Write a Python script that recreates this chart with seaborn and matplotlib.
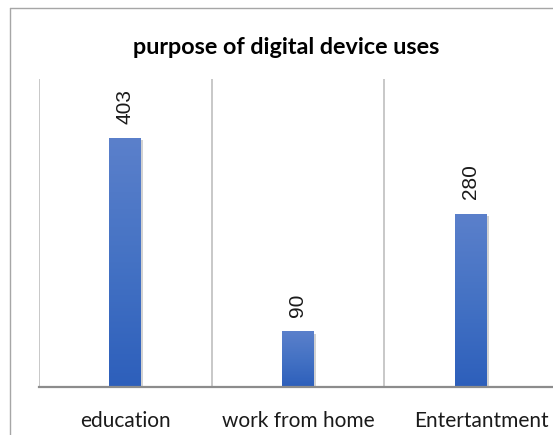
import numpy as np
import matplotlib
matplotlib.use("Agg")
import matplotlib.pyplot as plt
import matplotlib.patheffects as pe
from matplotlib.colors import LinearSegmentedColormap
from matplotlib.transforms import ScaledTranslation
from matplotlib.lines import Line2D
import seaborn as sns

# chart data
categories = ['education', 'work from home', 'Entertantment']
counts = [403, 90, 280]
title = 'purpose of digital device uses'

sns.set_style('white')
plt.rcParams['font.family'] = ['Lato', 'DejaVu Sans']

fig = plt.figure(figsize=(5.53, 4.355), dpi=100)

# outer chart border (cut off on the right and bottom like the screenshot)
bx, by = 10 / 553, 1 - 8 / 435
fig.add_artist(Line2D([bx, bx], [0, by], transform=fig.transFigure,
                      color='#a6a6a6', linewidth=1.0))
fig.add_artist(Line2D([bx, 1], [by, by], transform=fig.transFigure,
                      color='#a6a6a6', linewidth=1.0))

ax = fig.add_axes([39 / 553, 48 / 435, 518 / 553, 308 / 435])

sns.barplot(x=categories, y=counts, width=0.185, color='#4472c4', ax=ax,
            linewidth=0, zorder=3)

ax.set_xlim(-0.5, len(categories) - 0.5)
ax.set_ylim(0, 500)

# vertical separators between categories
ax.set_xticks(np.arange(len(categories)) - 0.5, minor=True)
ax.grid(True, which='minor', axis='x', color='#bfbfbf', linewidth=1.2, zorder=0)
ax.grid(False, which='major')
ax.tick_params(axis='x', which='both', length=0)
ax.tick_params(axis='x', which='major', pad=17, labelsize=15, colors='#1a1a1a')
ax.set_yticks([])
ax.set_xlabel('')
ax.set_ylabel('')
for side in ['top', 'right', 'left']:
    ax.spines[side].set_visible(False)
ax.spines['bottom'].set_color('#8c8c8c')
ax.spines['bottom'].set_linewidth(1.6)
ax.spines['bottom'].set_zorder(5)

# nudge last label like the original
lbl = ax.get_xticklabels()[2]
lbl.set_transform(lbl.get_transform() + ScaledTranslation(11 / 100, 0, fig.dpi_scale_trans))

# gradient fill + soft shadow on the bars
grad = LinearSegmentedColormap.from_list('bar', ['#2d5fbb', '#4472c4', '#5b80cb'])
gradient = np.linspace(0, 1, 256).reshape(-1, 1)
for patch in ax.patches:
    patch.set_path_effects([pe.SimplePatchShadow(offset=(1.5, -1.5), alpha=0.35,
                                                 shadow_rgbFace='#7f7f7f'),
                            pe.Normal()])
    x0, y0 = patch.get_x(), patch.get_y()
    w, h = patch.get_width(), patch.get_height()
    im = ax.imshow(gradient, extent=[x0, x0 + w, y0, y0 + h], origin='lower',
                   cmap=grad, aspect='auto', zorder=4)
    im.set_clip_path(patch)

ax.bar_label(ax.containers[0], labels=[str(v) for v in counts], rotation=90,
             padding=11, fontsize=15, family=['Liberation Sans', 'DejaVu Sans'],
             color='#1a1a1a')

fig.text(286 / 553, 1 - 47 / 435, title, ha='center', va='center',
         fontsize=16.8, fontweight='bold', color='#000000')

fig.savefig('out.png', dpi=100)
